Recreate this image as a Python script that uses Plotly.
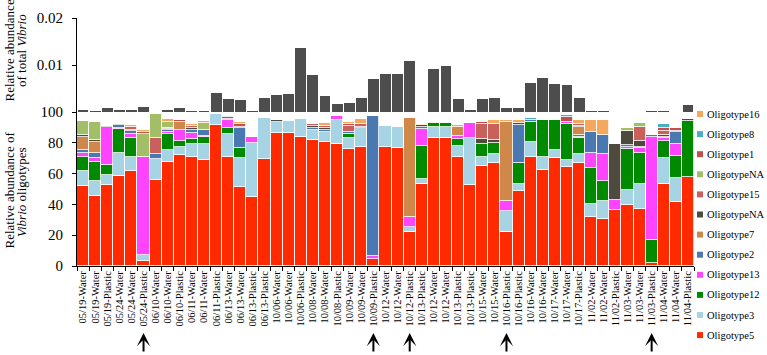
import plotly.graph_objects as go

# ---------------- data ----------------
sample_labels = [
    "05/19-Water", "05/19-Water", "05/19-Plastic", "05/24-Water", "05/24-Water", "05/24-Plastic",
    "06/10-Water", "06/10-Water", "06/10-Plastic", "06/11-Water", "06/11-Water", "06/11-Plastic",
    "06/13-Water", "06/13-Water", "06/13-Plastic", "06/13-Plastic", "10/06-Water", "10/06-Water",
    "10/06-Plastic", "10/08-Water", "10/08-Water", "10/08-Plastic", "10/09-Water", "10/09-Water",
    "10/09-Plastic", "10/12-Water", "10/12-Water", "10/12-Plastic", "10/13-Plastic", "10/12-Water",
    "10/12-Water", "10/13-Plastic", "10/13-Plastic", "10/15-Water", "10/15-Water", "10/16-Plastic",
    "10/16-Plastic", "10/16-Water", "10/16-Water", "10/17-Water", "10/17-Water", "10/17-Plastic",
    "11/02-Water", "11/02-Water", "11/02-Plastic", "11/03-Water", "11/03-Water", "11/03-Plastic",
    "11/04-Water", "11/04-Water", "11/04-Plastic",
]

# samples marked with an arrow (index into sample_labels)
arrow_samples = [5, 24, 27, 35, 47]

# relative abundance of total Vibrio (top panel)
total_vibrio = [
    0.00036, 0.0001, 0.0008, 0.0004, 0.0004, 0.0010, 0.0, 0.0003, 0.0008, 0.00015,
    0.00015, 0.0041, 0.0027, 0.0025, 0.0001, 0.0029, 0.0036, 0.0038, 0.0137, 0.0078,
    0.0034, 0.0017, 0.0020, 0.0029, 0.0071, 0.0081, 0.0081, 0.0109, 0.0, 0.0091,
    0.0097, 0.0027, 0.0004, 0.0027, 0.0029, 0.0008, 0.0008, 0.0062, 0.0073, 0.0060,
    0.0057, 0.0029, 0.0001, 0.0001, 0.0, 0.0, 0.0, 0.0001, 0.0001, 0.0, 0.0014,
]

# oligotype relative abundances (%), bottom of stack first
oligotype5 = [51.7, 45.7, 52.6, 58.6, 61.4, 3.0, 56.0, 67.7, 72.2, 70.9,
              68.8, 91.6, 70.9, 51.5, 45.0, 69.4, 86.2, 86.2, 84.0, 82.1,
              80.6, 79.1, 75.9, 77.6, 4.7, 77.6, 76.9, 22.0, 53.2, 83.0,
              83.4, 70.5, 52.6, 65.1, 67.2, 22.0, 48.5, 70.9, 62.3, 70.0,
              64.0, 67.2, 31.7, 30.8, 36.4, 39.9, 37.1, 2.2, 53.2, 41.4, 57.5]
oligotype3 = [10.2, 9.3, 6.7, 14.7, 9.5, 3.9, 13.4, 7.5, 5.2, 8.2,
              10.3, 6.9, 15.1, 18.5, 35.1, 26.5, 7.5, 8.0, 11.6, 6.0,
              6.5, 15.9, 7.5, 11.8, 0, 13.3, 13.4, 3.5, 3.3, 7.3,
              6.9, 7.5, 30.2, 5.4, 5.8, 14.0, 4.7, 9.3, 8.2, 5.2,
              4.8, 5.8, 8.6, 11.2, 0, 9.5, 16.1, 0, 16.8, 15.7, 0]
oligotype12 = [9.2, 12.7, 6.4, 15.5, 12.1, 0, 0, 10.8, 3.9, 3.5,
               4.7, 0, 3.9, 6.9, 0, 0, 0, 0, 0, 0,
               0, 0, 2.5, 0, 0, 0, 0, 0, 21.5, 2.5,
               2.7, 4.7, 0, 9.0, 7.1, 0, 13.4, 13.4, 24.5, 19.8,
               23.7, 10.0, 23.3, 13.4, 0, 26.9, 20.5, 14.8, 11.2, 14.4, 36.6]
oligotype13 = [2.4, 2.5, 24.6, 1.0, 2.6, 63.6, 0, 1.0, 7.1, 4.0,
               0.8, 0, 4.7, 0, 3.7, 0, 0, 0, 0, 0,
               0, 2.4, 0, 0, 2.0, 0, 0, 6.5, 10.8, 0,
               0, 1.5, 10.0, 0, 0, 6.5, 0, 0, 0, 0,
               1.0, 1.0, 9.7, 17.2, 6.5, 1.0, 2.7, 66.8, 1.7, 7.5, 0]
oligotype2 = [2.0, 3.5, 0, 1.5, 2.2, 0, 3.2, 1.0, 0, 1.8,
              4.0, 0, 1.0, 12.5, 0, 0, 0, 0, 0, 1.5,
              1.5, 0, 1.0, 0, 90.5, 0, 0, 0, 1.5, 0,
              0, 0, 0, 0, 0, 0, 25.0, 1.5, 0, 0,
              0, 1.0, 13.4, 12.5, 0, 1.0, 1.0, 1.2, 1.0, 7.8, 0]
oligotype7 = [8.5, 7.0, 0, 0, 0, 0, 0, 0, 5.4, 0,
              0, 0, 0, 0, 0, 0, 0, 0, 0, 0,
              0, 0, 0, 0, 0, 0, 0, 64.0, 0, 0,
              0, 6.0, 0, 0, 0, 51.0, 0, 0, 0, 0,
              0, 5.0, 0, 0, 0, 0, 0, 0, 0, 0, 0]
oligotypeNA_dark = [1.0, 1.0, 0.6, 1.0, 0.8, 0, 0, 0.8, 0, 1.0,
                    0, 0, 0, 1.0, 0, 0, 1.2, 0, 0, 1.0,
                    1.0, 0, 0, 1.0, 0, 0, 0, 0, 1.0, 0,
                    0, 0, 0, 3.0, 2.0, 0, 1.0, 0, 0, 0,
                    0, 1.0, 0, 0, 36.0, 9.5, 3.5, 0, 1.0, 1.0, 1.5]
oligotype15 = [0, 0, 0, 0, 1.5, 0, 10.8, 1.0, 0, 1.5,
               0, 0, 0, 0, 0, 0, 0, 0, 0, 1.5,
               1.5, 0, 4.0, 2.0, 0, 0, 0, 0, 0, 0,
               0, 0, 0, 10.0, 10.0, 0, 0, 0, 0, 0,
               0, 1.0, 0, 0, 0, 0, 9.5, 0, 3.0, 0, 0]
oligotypeNA_green = [9.0, 11.5, 0, 0, 0, 15.5, 15.0, 4.0, 0, 0,
                     4.0, 0, 0, 0, 0, 0, 0, 0, 0, 0,
                     0, 0, 0, 0, 0, 0, 0, 0, 0, 0,
                     0, 0, 0, 0, 0, 0, 0, 0, 0, 0,
                     0, 0, 0, 0, 0, 2.0, 2.5, 0, 0, 0, 0]
oligotype1 = [0, 0, 0, 0, 0, 1.0, 0, 0, 1.0, 0,
              0, 0, 1.0, 1.5, 0, 0, 0, 0, 0, 0,
              0, 0, 1.0, 0, 0, 0, 0, 0, 0, 0,
              0, 0, 0, 1.0, 0, 0, 0, 0, 0, 0,
              3.5, 0, 0, 0, 0, 0, 0, 0, 1.5, 1.5, 0]
oligotype8 = [0, 0, 0, 0, 0, 0, 0, 0, 0, 0,
              0, 0, 1.0, 0, 0, 0, 0, 0, 0, 0,
              0, 0, 0, 0, 0, 0, 0, 0, 0, 0,
              0, 0, 0, 0, 0, 0, 0, 1.0, 0, 0,
              1.0, 0, 0, 0, 0, 0, 0, 0, 2.5, 0, 0]
oligotype16 = [0, 0, 0, 0, 1.5, 1.0, 0, 1.5, 0, 1.5,
               1.5, 0, 0, 1.5, 0, 0, 0, 0, 0, 0,
               1.5, 0, 1.5, 3.0, 0, 0, 0, 0, 1.0, 1.0,
               0, 1.5, 0, 0, 2.5, 1.0, 2.5, 0, 0, 0,
               0, 3.0, 8.0, 9.5, 0, 0, 0, 0, 0, 0, 0]

series_names = ["Oligotype5", "Oligotype3", "Oligotype12", "Oligotype13", "Oligotype2",
                "Oligotype7", "OligotypeNA", "Oligotype15", "OligotypeNA", "Oligotype1",
                "Oligotype8", "Oligotype16"]
series_values = [oligotype5, oligotype3, oligotype12, oligotype13, oligotype2,
                 oligotype7, oligotypeNA_dark, oligotype15, oligotypeNA_green, oligotype1,
                 oligotype8, oligotype16]
series_colors = ["#FF2A00", "#A6D4E4", "#008A00", "#FF44FF", "#4A78B0",
                 "#D0874A", "#4E4B3E", "#C9605C", "#A2BE66", "#C0504D",
                 "#4BACC6", "#F5A75E"]

# ---------------- geometry (page pixels) ----------------
W, H = 767, 355
PL, PT, PR, PB = 77, 18, 694, 266
ML, MT, MR, MB = PL, PT, W - PR, H - PB
PW = PR - PL
PH = PB - PT
split = 154 / PH  # bottom panel height fraction

def px_x(p):
    return (p - PL) / PW

def px_y(p):
    return (PB - p) / PH

FONT = "Liberation Serif, Times New Roman, serif"
n = len(sample_labels)
xs = list(range(n))

fig = go.Figure()

for name, vals, col in zip(series_names, series_values, series_colors):
    fig.add_trace(go.Bar(
        x=xs, y=vals, name=name, marker=dict(color=col, line=dict(color="white", width=0.8)),
        width=1.0, xaxis="x", yaxis="y", showlegend=False,
    ))

fig.add_trace(go.Bar(
    x=xs, y=total_vibrio, name="Total Vibrio", marker=dict(color="#4D4D4D", line=dict(width=0)),
    width=0.9, xaxis="x2", yaxis="y2", showlegend=False,
))

# legend (real text next to colour squares), top entry = last series
annotations = []
shapes = []
for i, (name, col) in enumerate(zip(series_names[::-1], series_colors[::-1])):
    yc = 114 + i * 20.1
    shapes.append(dict(type="rect", xref="paper", yref="paper",
                       x0=px_x(697), x1=px_x(703), y0=px_y(yc + 3), y1=px_y(yc - 3),
                       fillcolor=col, line=dict(width=0)))
    annotations.append(dict(text=name, xref="paper", yref="paper", x=px_x(705), y=px_y(yc),
                            xanchor="left", yanchor="middle", showarrow=False,
                            font=dict(family=FONT, size=10.5, color="black")))

# axis titles
title_font = dict(family=FONT, size=13, color="black")
for txt, xc, yc in [("Relative abundance", 8.5, 51), ("of total <i>Vibrio</i>", 21, 51),
                    ("Relative abundance of", 8.5, 190), ("<i>Vibrio</i> oligotypes", 21, 192)]:
    annotations.append(dict(text=txt, xref="paper", yref="paper", x=px_x(xc), y=px_y(yc),
                            xanchor="center", yanchor="middle", textangle=-90, showarrow=False,
                            font=title_font))

# arrows under highlighted samples
for idx in arrow_samples:
    annotations.append(dict(text="", x=idx, xref="x", y=px_y(333), yref="paper",
                            ax=0, ay=20, showarrow=True, arrowhead=3, arrowsize=1.1,
                            arrowwidth=2, arrowcolor="black"))

fig.update_layout(
    template="none",
    width=W, height=H,
    margin=dict(l=ML, r=MR, t=MT, b=MB, pad=0),
    paper_bgcolor="white", plot_bgcolor="white",
    barmode="stack", bargap=0,
    showlegend=False,
    font=dict(family=FONT, color="black"),
    xaxis=dict(domain=[0, 1], anchor="y", range=[-0.5, n - 0.5],
               tickmode="array", tickvals=xs, ticktext=sample_labels, tickangle=-90,
               ticks="", tickfont=dict(family=FONT, size=10.5, color="black"),
               showline=True, linecolor="black", linewidth=1, showgrid=False, zeroline=False,
               minor=dict(tickmode="array", tickvals=[i - 0.5 for i in range(n + 1)],
                          ticks="outside", ticklen=4, tickcolor="black", tickwidth=1,
                          showgrid=False),
               automargin=False),
    yaxis=dict(domain=[0, split], anchor="x", range=[0, 100], tickmode="array",
               tickvals=[0, 20, 40, 60, 80, 100], ticks="outside", ticklen=4,
               tickcolor="black", tickfont=dict(family=FONT, size=15, color="black"),
               ticklabelstandoff=6,
               showline=True, linecolor="black", linewidth=1, showgrid=False, zeroline=False,
               automargin=False),
    xaxis2=dict(domain=[0, 1], anchor="y2", range=[-0.5, n - 0.5], matches="x",
                visible=False),
    yaxis2=dict(domain=[split, 1], anchor="x2", range=[0, 0.02], tickmode="array",
                tickvals=[0.01, 0.02], ticktext=["0.01", "0.02"], ticks="outside", ticklen=4,
                tickcolor="black", tickfont=dict(family=FONT, size=15, color="black"),
                ticklabelstandoff=6,
                showline=True, linecolor="black", linewidth=1, showgrid=False, zeroline=False,
                automargin=False),
    annotations=annotations,
    shapes=shapes,
)

# remove the browser's default page margin so the figure sits at the page origin
fig.write_html("out.html", config={"displayModeBar": False},
               post_script="document.body.style.margin='0';document.body.style.overflow='hidden';")
